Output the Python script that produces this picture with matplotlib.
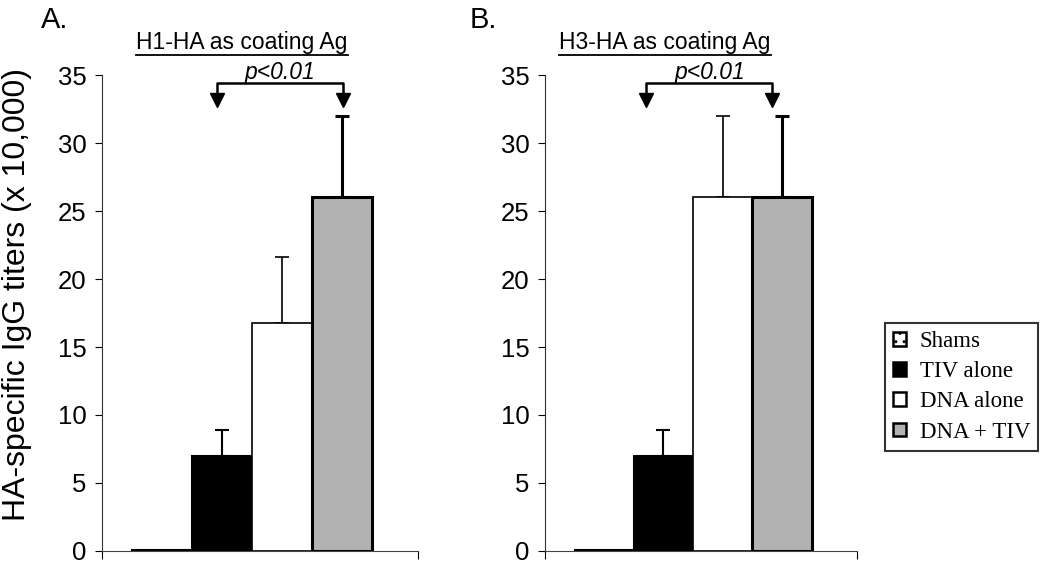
import matplotlib
matplotlib.use('Agg')
import matplotlib.pyplot as plt
from matplotlib.patches import Patch
from matplotlib.lines import Line2D

plt.rcParams['font.family'] = ['Liberation Sans', 'DejaVu Sans']
plt.rcParams['hatch.linewidth'] = 1.0

groups = ['Shams', 'TIV alone', 'DNA alone', 'DNA + TIV']
colors = ['white', 'black', 'white', '#b2b2b2']
hatches = ['..', None, None, None]

h1_means = [0.1, 7.0, 16.8, 26.0]
h1_err = [0.0, 1.9, 4.8, 6.0]
h3_means = [0.1, 7.0, 26.0, 26.0]
h3_err = [0.0, 1.9, 6.0, 6.0]

panels = [
    ('A.', 'H1-HA as coating Ag', h1_means, h1_err, (0.364, 0.763), 0.563),
    ('B.', 'H3-HA as coating Ag', h3_means, h3_err, (0.324, 0.728), 0.530),
]

fig = plt.figure(figsize=(10.5, 5.79), dpi=100)
ax_a = fig.add_axes([0.0971, 0.0484, 0.301, 0.822])
ax_b = fig.add_axes([0.519, 0.0484, 0.297, 0.822])

bar_left = [0.095, 0.285, 0.475, 0.665]
bar_w = 0.19
edge_w = [1.5, 1.5, 1.2, 2.2]

titles = []
for ax, (letter, title, means, errs, arrows, px) in zip([ax_a, ax_b], panels):
    for i in range(len(groups)):
        ax.bar(bar_left[i], means[i], width=bar_w, align='edge',
               color=colors[i], edgecolor='black', linewidth=edge_w[i],
               hatch=hatches[i], zorder=2)
        if errs[i] > 0:
            ax.errorbar(bar_left[i] + bar_w / 2, means[i],
                        yerr=[[0], [errs[i]]], fmt='none', ecolor='black',
                        elinewidth=edge_w[i], capsize=5, capthick=edge_w[i],
                        zorder=1)
    ax.set_xlim(0, 1)
    ax.set_ylim(0, 35)
    ax.set_yticks(range(0, 36, 5))
    ax.set_xticks([0, 1])
    ax.set_xticklabels([])
    ax.tick_params(axis='y', direction='out', length=5, labelsize=18.5, pad=6)
    ax.tick_params(axis='x', direction='out', length=6)
    ax.spines['top'].set_visible(False)
    ax.spines['right'].set_visible(False)
    ax.spines['left'].set_color('#333333')
    ax.spines['bottom'].set_color('#444444')

    # p-value bracket with arrows
    x1, x2 = arrows
    yh, yb = 34.4, 33.3
    ax.plot([x1, x1, x2, x2], [yb, yh, yh, yb], color='black', lw=1.8,
            clip_on=False, zorder=3)
    ax.plot([x1, x2], [33.2, 33.2], linestyle='none', marker='v',
            markersize=10, color='black', clip_on=False, zorder=3)
    ax.text(px, 35.2, 'p<0.01', style='italic', fontsize=16.5,
            ha='center', va='center', clip_on=False)

ax_a.set_ylabel('HA-specific IgG titers (x 10,000)', fontsize=23)
ax_a.yaxis.set_label_coords(-0.222, 0.538)

fig.text(0.039, 0.966, 'A.', fontsize=21, ha='left', va='center')
fig.text(0.447, 0.966, 'B.', fontsize=21, ha='left', va='center')
titles.append(fig.text(0.2305, 0.927, 'H1-HA as coating Ag', fontsize=16.5,
                       ha='center', va='center'))
titles.append(fig.text(0.6335, 0.927, 'H3-HA as coating Ag', fontsize=16.5,
                       ha='center', va='center'))

# underline the panel titles
fig.canvas.draw()
renderer = fig.canvas.get_renderer()
W, H = fig.bbox.width, fig.bbox.height
for t in titles:
    bb = t.get_window_extent(renderer)
    y = (bb.y0 - 1) / H
    fig.add_artist(Line2D([bb.x0 / W, bb.x1 / W], [y, y],
                          transform=fig.transFigure, color='black', lw=1.3))

handles = [Patch(facecolor=c, edgecolor='black', linewidth=1.8, hatch=h)
           for c, h in zip(colors, hatches)]
leg = fig.legend(handles, groups, loc='upper left',
                 bbox_to_anchor=(0.843, 0.442), bbox_transform=fig.transFigure,
                 borderaxespad=0, frameon=True, fancybox=False,
                 handlelength=0.55, handleheight=0.55, handletextpad=0.6,
                 labelspacing=0.4, borderpad=0.35,
                 prop={'family': 'Liberation Serif', 'size': 16.5})
leg.get_frame().set_edgecolor('black')
leg.get_frame().set_linewidth(1.5)

plt.savefig('out.png', dpi=100)
